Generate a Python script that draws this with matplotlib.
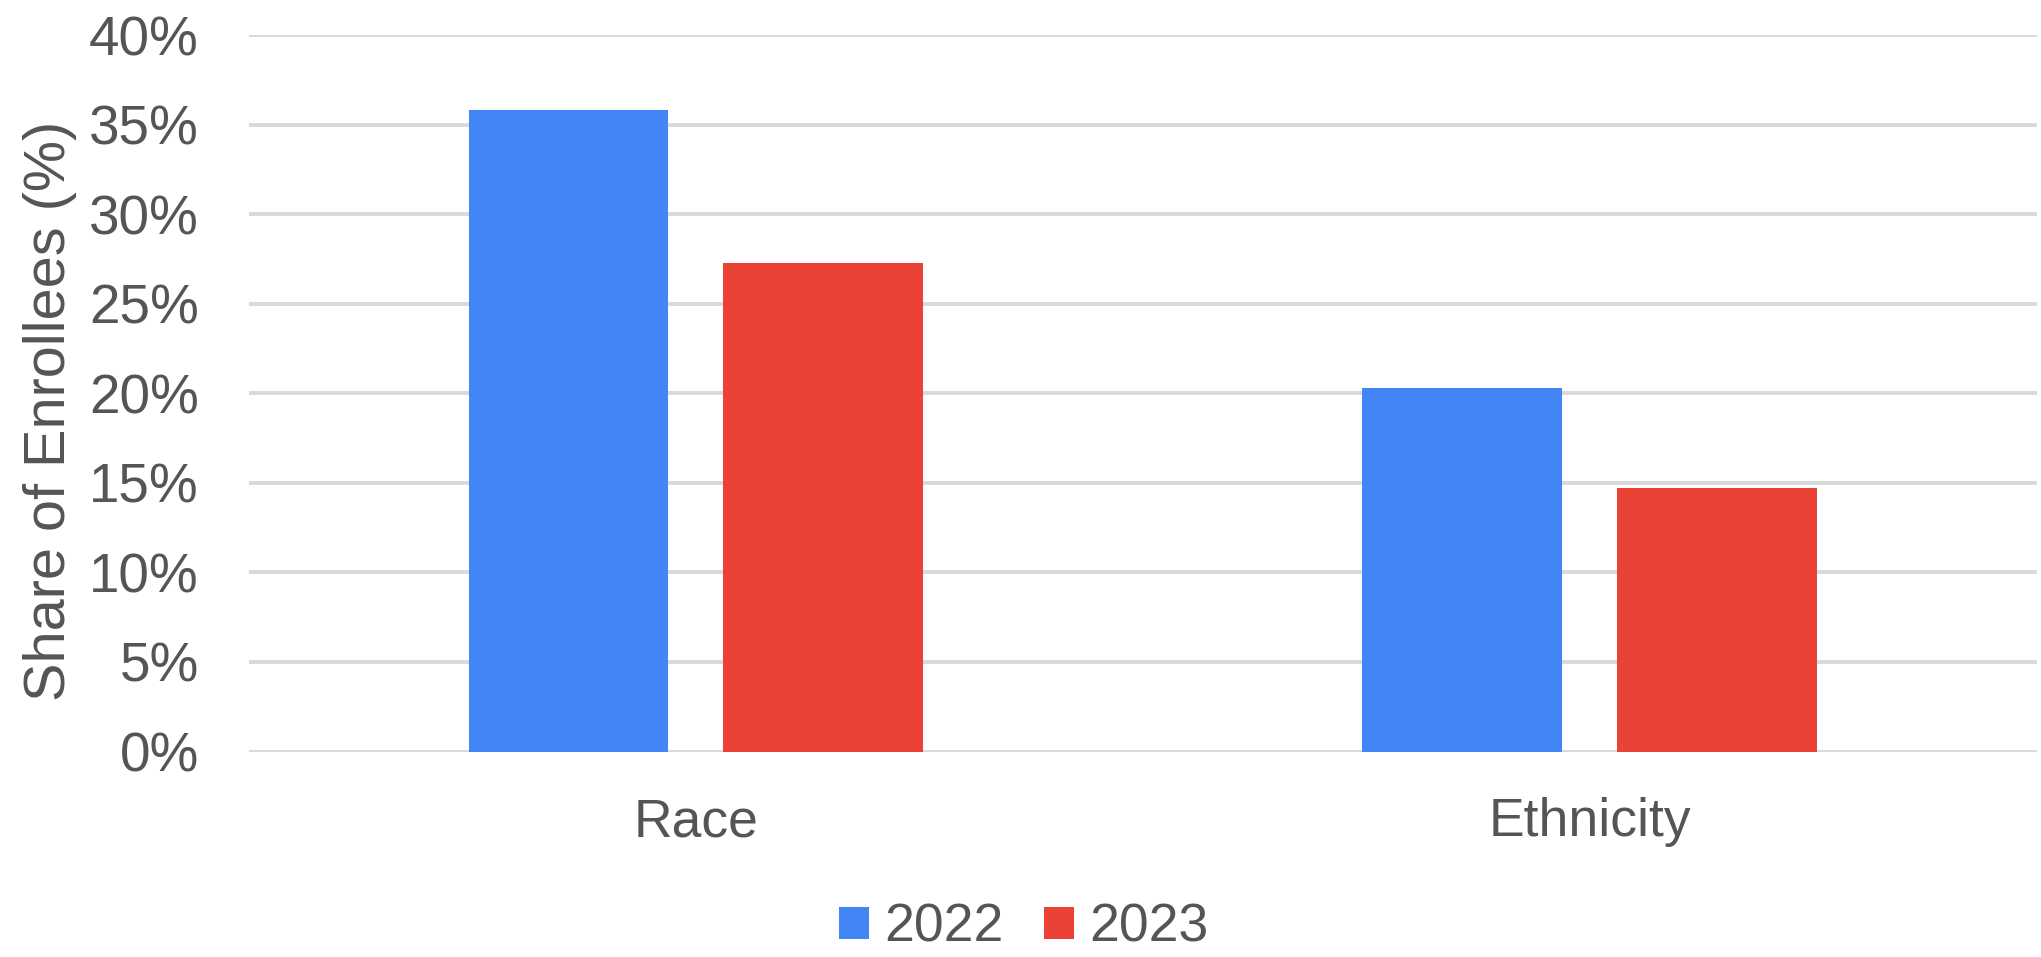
import matplotlib
matplotlib.use("Agg")
import matplotlib.pyplot as plt
from matplotlib.patches import Patch
from matplotlib.ticker import FuncFormatter, MultipleLocator
import numpy as np

# Share of enrollees reporting race / ethnicity, by year
categories = ["Race", "Ethnicity"]
years = ["2022", "2023"]
share_2022 = [35.8, 20.3]
share_2023 = [27.3, 14.7]

colors = {"2022": "#4285F4", "2023": "#EA4335"}
text_color = "#555555"
grid_color = "#D9D9D9"

plt.rcParams["font.family"] = ["Liberation Sans", "DejaVu Sans"]

fig = plt.figure(figsize=(20.41, 9.57), dpi=100)
ax = fig.add_axes([0.122, 0.2147, 0.876, 0.7487])

x = np.arange(len(categories))
width = 0.2237
offset = 0.1426
ax.bar(x - offset, share_2022, width, color=colors["2022"], zorder=3)
ax.bar(x + offset, share_2023, width, color=colors["2023"], zorder=3)

ax.set_xlim(-0.5, 1.5)
ax.set_ylim(0, 40)
ax.yaxis.set_major_locator(MultipleLocator(5))
ax.yaxis.set_major_formatter(FuncFormatter(lambda v, _: f"{v:.0f}%"))
ax.set_xticks(x)
ax.set_xticklabels(categories)

ax.grid(axis="y", color=grid_color, linewidth=2.8, zorder=0)
ax.set_axisbelow(True)
for s in ax.spines.values():
    s.set_visible(False)
ax.tick_params(axis="y", length=0, labelsize=39.5, labelcolor=text_color, pad=36)
ax.tick_params(axis="x", length=0, labelsize=38.5, labelcolor=text_color, pad=33)

ax.set_ylabel("Share of Enrollees (%)", fontsize=41.5, color=text_color)
ax.yaxis.set_label_coords(-0.096, 0.475)

handles = [Patch(facecolor=colors[y], edgecolor="none") for y in years]
fig.legend(handles, years, loc="center", bbox_to_anchor=(1024 / 2041, 1 - 928 / 957),
           ncol=2, frameon=False, fontsize=38.5, labelcolor=text_color,
           handlelength=0.55, handleheight=0.55, handletextpad=0.3,
           columnspacing=0.75, borderpad=0)

fig.savefig("out.png", dpi=100, facecolor="white")
